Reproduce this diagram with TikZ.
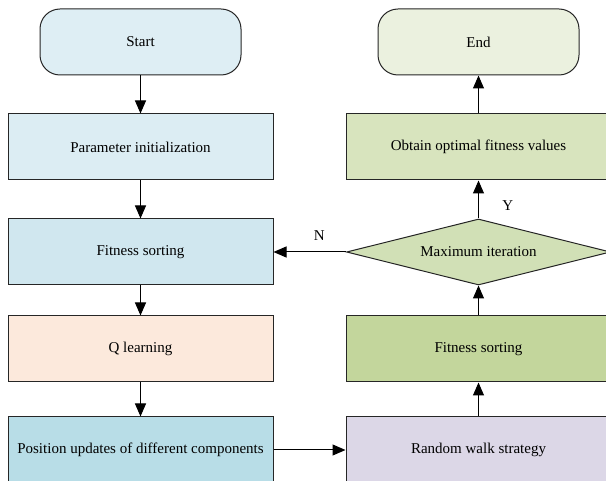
\documentclass[tikz,border=0pt]{standalone}
\usepackage{fontspec}
\setmainfont{Liberation Serif}
\usetikzlibrary{arrows.meta,positioning,shapes.geometric}
\definecolor{startblue}{HTML}{DEEEF4}
\definecolor{initblue}{HTML}{DCEDF3}
\definecolor{sortblue}{HTML}{D0E7EF}
\definecolor{qorange}{HTML}{FCE9DC}
\definecolor{posblue}{HTML}{B8DDE7}
\definecolor{endgreen}{HTML}{EBF1DF}
\definecolor{bestgreen}{HTML}{D8E4BE}
\definecolor{itgreen}{HTML}{D1E0B6}
\definecolor{sortgreen}{HTML}{C3D69C}
\definecolor{walkpurple}{HTML}{DCD7E7}
\tikzset{
  box/.style={draw=black!85, line width=1pt, align=center, inner sep=4pt,
    font=\fontsize{15}{18}\selectfont},
  stage/.style={box, minimum width=265pt, minimum height=66pt},
  term/.style={box, rounded corners=20pt, minimum width=201pt, minimum height=66pt},
  decide/.style={box, diamond, aspect=4, inner sep=0pt, minimum width=264pt,
    minimum height=66pt},
  lbl/.style={font=\fontsize{15}{18}\selectfont},
  flow/.style={-{Triangle[length=13pt,width=11pt]}, line width=1pt},
}

\begin{document}
\begin{tikzpicture}[x=1pt, y=1pt]
    \useasboundingbox (0,0) rectangle (606,-481);
    \clip (0,0) rectangle (606,-481);
    % left column
    \node[term, fill=startblue] (start) at (140.5,-42) {Start};
    \node[stage, fill=initblue, below=38pt of start] (init) {Parameter initialization};
    \node[stage, fill=sortblue, below=38pt of init] (sort) {Fitness sorting};
    \node[stage, fill=qorange, below=30pt of sort] (qlearn) {Q learning};
    \node[stage, fill=posblue, below=34pt of qlearn] (update) {Position updates of different components};
    % right column
    \node[stage, fill=walkpurple, right=72pt of update] (walk) {Random walk strategy};
    \node[stage, fill=sortgreen, above=34pt of walk] (sortb) {Fitness sorting};
    \node[decide, fill=itgreen, above=30pt of sortb] (maxit) {Maximum iteration};
    \node[stage, fill=bestgreen, above=38pt of maxit] (best) {Obtain optimal fitness values};
    \node[term, fill=endgreen, above=38pt of best] (end) {End};
    % connectors
    \draw[flow] (start) -- (init);
    \draw[flow] (init) -- (sort);
    \draw[flow] (sort) -- (qlearn);
    \draw[flow] (qlearn) -- (update);
    \draw[flow] (update) -- (walk);
    \draw[flow] (walk) -- (sortb);
    \draw[flow] (sortb) -- (maxit);
    \draw[flow] (maxit) -- node[lbl, right=20pt, pos=0.35] {Y} (best);
    \draw[flow] (best) -- (end);
    \draw[flow] (maxit) -- node[lbl, above=8pt, pos=0.37] {N} (sort);
\end{tikzpicture}
\end{document}
